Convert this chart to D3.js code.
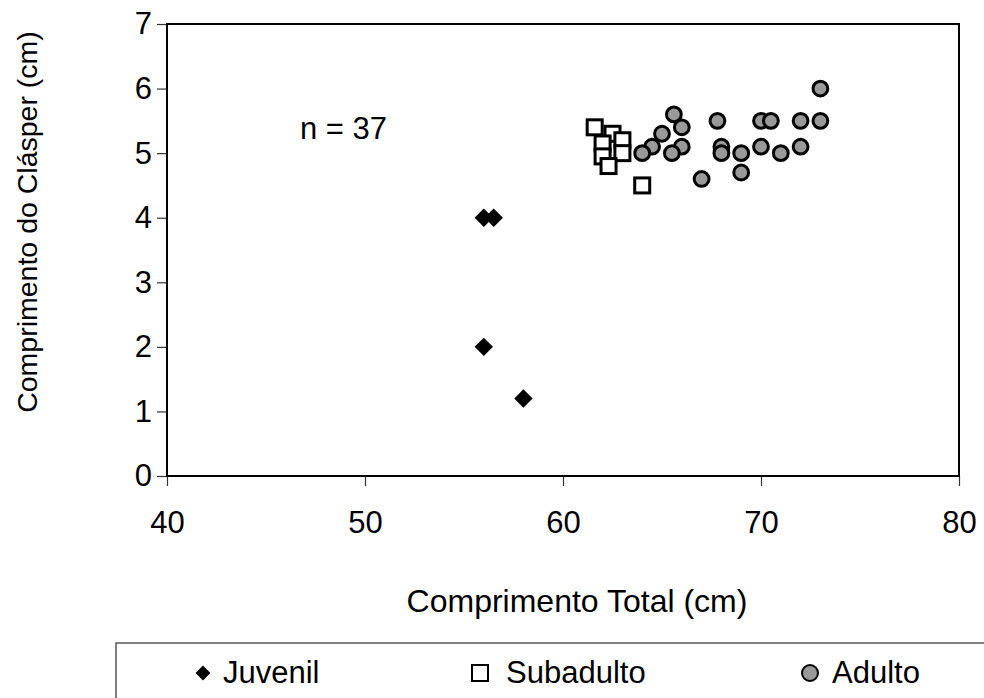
<!DOCTYPE html>
<html>
<head>
<meta charset="utf-8">
<script src="https://cdn.jsdelivr.net/npm/d3@7"></script>
<style>
  body { margin: 0; background: #fff; }
  svg text { font-family: "Liberation Sans", Arial, sans-serif; fill: #000; }
</style>
</head>
<body>
<div id="chart"></div>
<script>
/* ---------------- data ---------------- */
const juvenilX = [56, 56.5, 56, 58];
const juvenilY = [4, 4, 2, 1.2];

const subadultoX = [61.6, 62.5, 63, 62, 63, 62, 62.3, 64];
const subadultoY = [5.4, 5.3, 5.2, 5.15, 5.0, 4.95, 4.8, 4.5];

const adultoX = [73, 65.6, 66, 65, 64.5, 64, 66, 65.5, 67.8, 68, 68, 67, 69, 69, 70, 70.5, 70, 71, 72, 72, 73];
const adultoY = [6, 5.6, 5.4, 5.3, 5.1, 5.0, 5.1, 5.0, 5.5, 5.1, 5.0, 4.6, 5.0, 4.7, 5.5, 5.5, 5.1, 5.0, 5.5, 5.1, 5.5];

const xTicks = [40, 50, 60, 70, 80];
const yTicks = [0, 1, 2, 3, 4, 5, 6, 7];
const legendLabels = ["Juvenil", "Subadulto", "Adulto"];

/* ---------------- setup ---------------- */
const width = 984, height = 698;
const plot = { left: 167, right: 959, top: 24, bottom: 476 };

const svg = d3.select("#chart").append("svg")
    .attr("width", width)
    .attr("height", height);

const x = d3.scaleLinear().domain([40, 80]).range([plot.left, plot.right]);
const y = d3.scaleLinear().domain([0, 7]).range([plot.bottom, plot.top]);

/* ---------------- axes ---------------- */
const xAxis = svg.append("g")
    .attr("transform", `translate(0,${plot.bottom})`)
    .call(d3.axisBottom(x).tickValues(xTicks).tickSize(10).tickPadding(25).tickFormat(d3.format("d")));
const yAxis = svg.append("g")
    .attr("transform", `translate(${plot.left},0)`)
    .call(d3.axisLeft(y).tickValues(yTicks).tickSize(10).tickPadding(5).tickFormat(d3.format("d")));

[xAxis, yAxis].forEach(g => {
    g.select(".domain").remove();
    g.selectAll(".tick line").attr("stroke", "#333").attr("stroke-width", 1.2);
    g.selectAll(".tick text").style("font-size", "31px").attr("fill", "#000");
});

// frame
svg.append("rect")
    .attr("x", plot.left).attr("y", plot.top)
    .attr("width", plot.right - plot.left)
    .attr("height", plot.bottom - plot.top)
    .attr("fill", "none")
    .attr("stroke", "#000")
    .attr("stroke-width", 2);

/* ---------------- titles ---------------- */
svg.append("text")
    .attr("x", 577)
    .attr("y", 612)
    .attr("text-anchor", "middle")
    .style("font-size", "32px")
    .text("Comprimento Total (cm)");

svg.append("text")
    .attr("transform", `translate(37,222) rotate(-90)`)
    .attr("text-anchor", "middle")
    .style("font-size", "28.5px")
    .text("Comprimento do Clásper (cm)");

svg.append("text")
    .attr("x", 300)
    .attr("y", 139)
    .style("font-size", "31px")
    .text("n = 37");

/* ---------------- points ---------------- */
const juv = juvenilX.map((v, i) => ({ x: v, y: juvenilY[i] }));
const sub = subadultoX.map((v, i) => ({ x: v, y: subadultoY[i] }));
const adu = adultoX.map((v, i) => ({ x: v, y: adultoY[i] }));

const diamond = d3.symbol().type(d3.symbolSquare).size(170);

svg.append("g").selectAll("path")
    .data(juv).enter().append("path")
    .attr("d", diamond)
    .attr("transform", d => `translate(${x(d.x)},${y(d.y)}) rotate(45)`)
    .attr("fill", "#000");

svg.append("g").selectAll("rect")
    .data(sub).enter().append("rect")
    .attr("x", d => x(d.x) - 7.5)
    .attr("y", d => y(d.y) - 7.5)
    .attr("width", 15).attr("height", 15)
    .attr("fill", "#fff")
    .attr("stroke", "#000")
    .attr("stroke-width", 3);

svg.append("g").selectAll("circle")
    .data(adu).enter().append("circle")
    .attr("cx", d => x(d.x))
    .attr("cy", d => y(d.y))
    .attr("r", 7.4)
    .attr("fill", "#999")
    .attr("stroke", "#000")
    .attr("stroke-width", 3);

/* ---------------- legend ---------------- */
svg.append("rect")
    .attr("x", 116).attr("y", 643)
    .attr("width", 900).attr("height", 100)
    .attr("fill", "none")
    .attr("stroke", "#555")
    .attr("stroke-width", 1.5);

const legendX = [203, 480, 810];
const lg = svg.append("g").selectAll("g")
    .data(legendLabels).enter().append("g")
    .attr("transform", (d, i) => `translate(${legendX[i]},673)`);

lg.filter((d, i) => i === 0).append("path")
    .attr("d", d3.symbol().type(d3.symbolSquare).size(110))
    .attr("transform", "rotate(45)")
    .attr("fill", "#000");
lg.filter((d, i) => i === 1).append("rect")
    .attr("x", -8).attr("y", -8).attr("width", 16).attr("height", 16)
    .attr("fill", "#fff").attr("stroke", "#000").attr("stroke-width", 2);
lg.filter((d, i) => i === 2).append("circle")
    .attr("r", 8).attr("fill", "#999").attr("stroke", "#000").attr("stroke-width", 2);

lg.append("text")
    .attr("x", (d, i) => [20, 26, 22][i])
    .attr("y", 10)
    .style("font-size", "31px")
    .text(d => d);
</script>
</body>
</html>
